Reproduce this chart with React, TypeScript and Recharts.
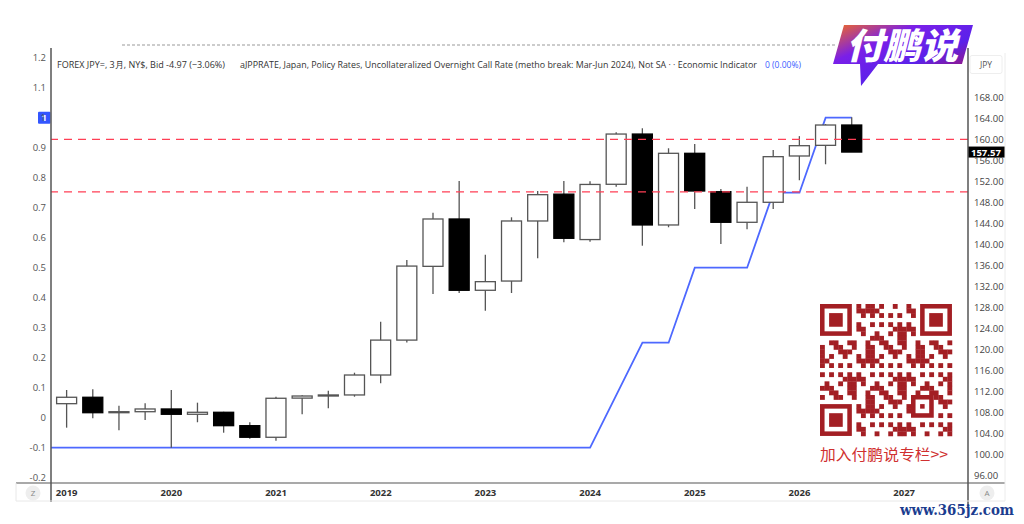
import { ComposedChart, XAxis, YAxis, Bar, Line, ReferenceLine } from 'recharts'

// quarterly USD/JPY candles, 2019 Q1 .. 2026 Q3
const quarters = [
  '2019Q1', '2019Q2', '2019Q3', '2019Q4',
  '2020Q1', '2020Q2', '2020Q3', '2020Q4',
  '2021Q1', '2021Q2', '2021Q3', '2021Q4',
  '2022Q1', '2022Q2', '2022Q3', '2022Q4',
  '2023Q1', '2023Q2', '2023Q3', '2023Q4',
  '2024Q1', '2024Q2', '2024Q3', '2024Q4',
  '2025Q1', '2025Q2', '2025Q3', '2025Q4',
  '2026Q1', '2026Q2', '2026Q3',
]
const opens = [
  109.64, 110.86, 107.92, 108.11, 108.63, 107.62, 108.0, 105.45,
  103.24, 110.7, 111.1, 111.3, 115.1, 121.75, 135.8, 144.82,
  131.24, 133.0, 144.44, 149.55, 140.9, 151.43, 161.0, 143.68,
  157.33, 150.02, 144.19, 148.0, 156.82, 158.85, 162.72,
]
const highs = [
  112.25, 112.4, 109.26, 109.71, 112.25, 109.83, 108.1, 106.1,
  110.97, 111.24, 112.12, 115.54, 125.26, 137.0, 146.0, 152.06,
  138.02, 145.14, 150.15, 152.06, 152.0, 161.33, 162.1, 158.29,
  159.1, 150.53, 150.97, 157.96, 160.6, 162.9, 164.2,
]
const lows = [
  105.07, 106.86, 104.57, 106.53, 101.26, 106.1, 104.11, 102.97,
  102.59, 107.62, 108.76, 110.97, 113.52, 121.3, 130.53, 130.72,
  127.35, 130.72, 137.33, 140.38, 140.5, 150.97, 139.73, 143.24,
  146.72, 140.06, 142.86, 146.72, 152.2, 155.24, 157.57,
]
const closes = [
  110.86, 107.92, 108.11, 108.63, 107.62, 108.0, 105.45, 103.24,
  110.67, 111.1, 111.3, 115.1, 121.75, 135.85, 144.82, 131.24,
  132.88, 144.44, 149.45, 141.14, 151.4, 161.0, 143.68, 157.33,
  150.15, 144.19, 148.0, 156.69, 158.78, 162.72, 157.57,
]

// BOJ policy rate, starting one quarter earlier (2018 Q4)
const policyRate = [
  -0.1, -0.1, -0.1, -0.1, -0.1, -0.1, -0.1, -0.1, -0.1, -0.1, -0.1,
  -0.1, -0.1, -0.1, -0.1, -0.1, -0.1, -0.1, -0.1, -0.1, -0.1, -0.1,
  null, 0.25, 0.25, 0.5, 0.5, 0.5, 0.75, 0.75, 1.0, 1.0,
]

const years = ['2019', '2020', '2021', '2022', '2023', '2024', '2025', '2026', '2027']
const rateTicks = [-0.2, -0.1, 0, 0.1, 0.2, 0.3, 0.4, 0.5, 0.6, 0.7, 0.8, 0.9, 1, 1.1, 1.2]
const priceTicks = [96, 100, 104, 108, 112, 116, 120, 124, 128, 132, 136, 140, 144, 148, 152, 156, 160, 164, 168]
const levels = [160, 150]

const data = policyRate.map((rate, k) => {
  const i = k - 1
  return {
    x: i,
    q: quarters[i],
    open: opens[i],
    high: highs[i],
    low: lows[i],
    close: closes[i],
    rate,
  }
})

const FONT = '"Open Sans", "Noto Sans", sans-serif'
const CJK = '"Noto Sans CJK SC", sans-serif'

const Candle = (props: any) => {
  const { x, y, width, height, payload } = props
  if (!payload || payload.open == null) return null
  const { open, close, high, low } = payload
  const toY = (v: number) => y + ((high - v) / (high - low)) * height
  const up = close >= open
  const top = toY(Math.max(open, close))
  const bottom = toY(Math.min(open, close))
  const cx = x + width / 2
  return (
    <g>
      <line x1={cx} x2={cx} y1={y} y2={y + height} stroke="#555" strokeWidth={1.3} />
      <rect
        x={x}
        y={top}
        width={width}
        height={Math.max(bottom - top, 1)}
        fill={up ? '#fff' : '#000'}
        stroke={up ? '#555' : '#000'}
        strokeWidth={1.3}
      />
    </g>
  )
}

const PriceTag = (props: any) => {
  const vb = props.viewBox
  if (!vb) return null
  const x = vb.x + vb.width
  return (
    <g>
      <rect x={x} y={vb.y - 5.5} width={37} height={11} fill="#000" />
      <text x={x + 3} y={vb.y + 3.5} fontSize={9.5} fontWeight={700} fill="#fff" fontFamily={FONT}>
        {closes[closes.length - 1].toFixed(2)}
      </text>
    </g>
  )
}

const RateTag = (props: any) => {
  const vb = props.viewBox
  if (!vb) return null
  return (
    <g>
      <rect x={vb.x - 13} y={vb.y - 6} width={12.5} height={12} rx={1} fill="#3356ff" />
      <text x={vb.x - 6.8} y={vb.y + 3.3} fontSize={9.5} fontWeight={700} fill="#fff" textAnchor="middle" fontFamily={FONT}>
        1
      </text>
    </g>
  )
}

function QrCode() {
  const n = 29
  const s = 4.55
  const ox = 820
  const oy = 304
  const cells: any[] = []
  const inFinder = (r: number, c: number) =>
    (r < 8 && c < 8) || (r < 8 && c >= n - 8) || (r >= n - 8 && c < 8)
  for (let r = 0; r < n; r++) {
    for (let c = 0; c < n; c++) {
      if (inFinder(r, c)) continue
      if (r >= 20 && r <= 24 && c >= 20 && c <= 24) continue
      if ((r * r * 3 + c * 7 + r * c * 5) % 11 < 5) {
        cells.push(<rect key={r + '-' + c} x={ox + c * s} y={oy + r * s} width={s + 0.3} height={s + 0.3} />)
      }
    }
  }
  const finder = (r: number, c: number, size: number, key: string) => (
    <g key={key}>
      <rect x={ox + c * s} y={oy + r * s} width={size * s} height={size * s} />
      <rect x={ox + (c + 1) * s} y={oy + (r + 1) * s} width={(size - 2) * s} height={(size - 2) * s} fill="#fff" />
      <rect x={ox + (c + 2) * s} y={oy + (r + 2) * s} width={(size - 4) * s} height={(size - 4) * s} />
    </g>
  )
  return (
    <g fill="#a31f24">
      {cells}
      {finder(0, 0, 7, 'a')}
      {finder(0, n - 7, 7, 'b')}
      {finder(n - 7, 0, 7, 'c')}
      {finder(20, 20, 5, 'd')}
    </g>
  )
}

function Overlay() {
  return (
    <svg width={1024} height={524} style={{ position: 'absolute', left: 0, top: 0, pointerEvents: 'none' }}>
      <defs>
        <linearGradient id="logo" x1="0" y1="0" x2="1" y2="1">
          <stop offset="0%" stopColor="#f26a21" />
          <stop offset="30%" stopColor="#7a1fe8" />
          <stop offset="60%" stopColor="#5a22ea" />
          <stop offset="100%" stopColor="#c8102e" />
        </linearGradient>
      </defs>
      <line x1={122} x2={835} y1={45} y2={45} stroke="#999" strokeDasharray="3 2" />
      <text x={57} y={67.5} fontSize={9} fill="#333" fontFamily={FONT} textLength={168} lengthAdjust="spacingAndGlyphs">
        FOREX JPY=, 3月, NY$, Bid  -4.97 (−3.06%)
      </text>
      <text x={240} y={67.5} fontSize={9} fill="#333" fontFamily={FONT} textLength={517} lengthAdjust="spacingAndGlyphs">
        aJPPRATE, Japan, Policy Rates, Uncollateralized Overnight Call Rate (metho break: Mar-Jun 2024), Not SA ·  · Economic Indicator
      </text>
      <text x={765} y={67.5} fontSize={9} fill="#3a5bff" fontFamily={FONT} textLength={36} lengthAdjust="spacingAndGlyphs">
        0 (0.00%)
      </text>

      <line x1={51} x2={51} y1={483} y2={502} stroke="#555" strokeWidth={1.5} />
      <line x1={968} x2={968} y1={483} y2={508} stroke="#555" strokeWidth={1.5} />
      <line x1={16} x2={51} y1={483} y2={483} stroke="#555" strokeWidth={1.2} />
      <line x1={968} x2={1005} y1={483} y2={483} stroke="#555" strokeWidth={1.2} />
      <line x1={16} x2={1005} y1={501} y2={501} stroke="#e8e8e8" />
      <line x1={1005} x2={1005} y1={53} y2={501} stroke="#ececec" />
      <line x1={16} x2={16} y1={483} y2={501} stroke="#e8e8e8" />

      <circle cx={33} cy={493} r={7.5} fill="#eeeeee" />
      <text x={33} y={496} fontSize={8} fill="#888" textAnchor="middle" fontFamily={FONT}>Z</text>
      <circle cx={987} cy={493} r={7.5} fill="#eeeeee" />
      <text x={987} y={496} fontSize={8} fill="#888" textAnchor="middle" fontFamily={FONT}>A</text>

      <rect x={970} y={55.5} width={32} height={18} rx={2} fill="#fff" stroke="#eeeeee" />
      <text x={986} y={67.5} fontSize={8.5} fill="#555" textAnchor="middle" fontFamily={FONT}>JPY</text>

      <polygon points="844,25 973,25 962,64 878,64 861,86 860,64 833,64" fill="url(#logo)" />
      <g transform="translate(902,59) skewX(-14)">
        <text textAnchor="middle" fontSize={36} fontWeight={900} fill="#fff" fontFamily={CJK} textLength={112} lengthAdjust="spacingAndGlyphs">
          付鹏说
        </text>
      </g>

      <QrCode />
      <text x={820} y={460} fontSize={15} fill="#d03030" fontFamily={CJK} textLength={128} lengthAdjust="spacingAndGlyphs">
        加入付鹏说专栏&gt;&gt;
      </text>
      <text x={900} y={515} fontSize={15} fontWeight={700} fill="#1b3d8f" fontFamily='"DejaVu Serif", serif' textLength={114} lengthAdjust="spacingAndGlyphs">
        www.365jz.com
      </text>
    </svg>
  )
}

export default function App() {
  return (
    <div style={{ position: 'absolute', left: 0, top: 0, width: 1024, height: 524, background: '#fff' }}>
      <ComposedChart
        width={1024}
        height={524}
        data={data}
        margin={{ top: 48, left: 16, right: 14, bottom: 24 }}
      >
        <XAxis
          dataKey="x"
          type="number"
          domain={[-0.6, 34.44]}
          allowDataOverflow
          ticks={years.map((_, i) => i * 4)}
          tickFormatter={(v: number) => years[v / 4]}
          height={17}
          tickLine={false}
          tickSize={4}
          tickMargin={2}
          axisLine={{ stroke: '#555', strokeWidth: 1.2 }}
          tick={{ fontSize: 9.5, fontWeight: 700, fill: '#333', fontFamily: FONT }}
        />
        <YAxis
          yAxisId="rate"
          orientation="left"
          width={35}
          domain={[-0.2177, 1.2323]}
          allowDataOverflow
          ticks={rateTicks}
          interval={0}
          tickFormatter={(v: number) => String(+v.toFixed(1))}
          tickLine={false}
          tickSize={3}
          tickMargin={2}
          axisLine={{ stroke: '#555', strokeWidth: 1.5 }}
          tick={{ fontSize: 9.5, fill: '#555', fontFamily: FONT }}
        />
        <YAxis
          yAxisId="px"
          orientation="right"
          width={42}
          domain={[94.53, 177.39]}
          allowDataOverflow
          ticks={priceTicks}
          interval={0}
          tickFormatter={(v: number) => v.toFixed(2)}
          tickLine={false}
          tickSize={4}
          tickMargin={2}
          axisLine={{ stroke: '#555', strokeWidth: 1.5 }}
          tick={{ fontSize: 9.5, fill: '#444', fontFamily: FONT }}
        />
        {levels.map((lv) => (
          <ReferenceLine key={lv} yAxisId="px" y={lv} stroke="#ff3f55" strokeWidth={1.3} strokeDasharray="8 6" />
        ))}
        <Line
          yAxisId="rate"
          dataKey="rate"
          stroke="#4d68ff"
          strokeWidth={1.8}
          dot={false}
          activeDot={false}
          connectNulls
          isAnimationActive={false}
          zIndex={250}
        />
        <Bar
          yAxisId="px"
          dataKey={(d: any) => (d.open == null ? null : [d.low, d.high])}
          barSize={20}
          shape={<Candle />}
          isAnimationActive={false}
          zIndex={350}
        />
        <ReferenceLine yAxisId="px" y={closes[closes.length - 1]} stroke="none" label={<PriceTag />} />
        <ReferenceLine yAxisId="rate" y={1} stroke="none" label={<RateTag />} />
      </ComposedChart>
      <Overlay />
    </div>
  )
}
